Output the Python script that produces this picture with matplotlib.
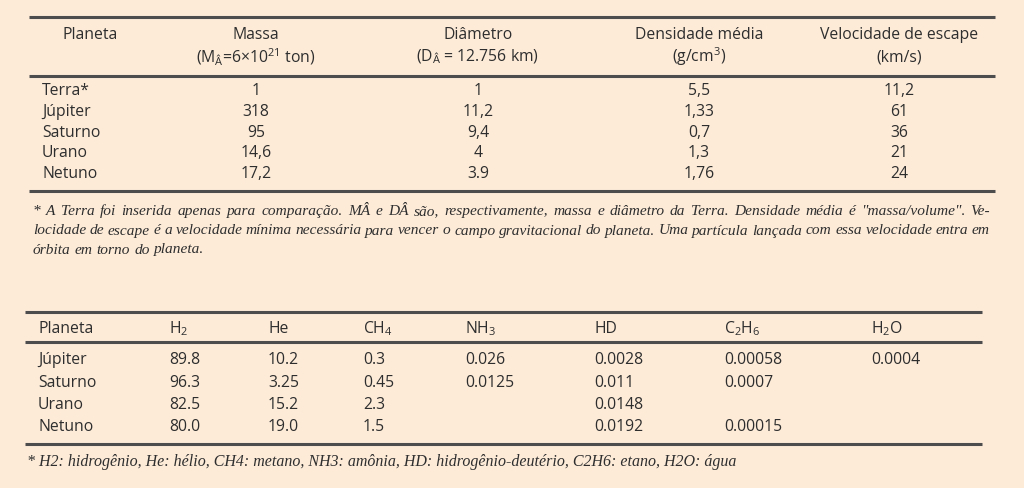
import matplotlib
matplotlib.use('Agg')
import matplotlib.pyplot as plt

# ---- data ----
planets1 = ['Terra*', 'Júpiter', 'Saturno', 'Urano', 'Netuno']
massa = ['1', '318', '95', '14,6', '17,2']
diametro = ['1', '11,2', '9,4', '4', '3.9']
densidade = ['5,5', '1,33', '0,7', '1,3', '1,76']
velocidade = ['11,2', '61', '36', '21', '24']
header1 = ['Massa', 'Diâmetro', 'Densidade média', 'Velocidade de escape']
header1_units = ['(M$_{\\mathrm{Â}}$=6×10$^{21}$ ton)', '(D$_{\\mathrm{Â}}$ = 12.756 km)',
                 '(g/cm$^{3}$)', '(km/s)']

planets2 = ['Júpiter', 'Saturno', 'Urano', 'Netuno']
gases = ['H$_2$', 'He', 'CH$_4$', 'NH$_3$', 'HD', 'C$_2$H$_6$', 'H$_2$O']
h2 = ['89.8', '96.3', '82.5', '80.0']
he = ['10.2', '3.25', '15.2', '19.0']
ch4 = ['0.3', '0.45', '2.3', '1.5']
nh3 = ['0.026', '0.0125', '', '']
hd = ['0.0028', '0.011', '0.0148', '0.0192']
c2h6 = ['0.00058', '0.0007', '', '0.00015']
h2o = ['0.0004', '', '', '']

note1 = ['* A Terra foi inserida apenas para comparação. MÂ e DÂ são, respectivamente, massa e diâmetro da Terra. Densidade média é "massa/volume". Ve-',
         'locidade de escape é a velocidade mínima necessária para vencer o campo gravitacional do planeta. Uma partícula lançada com essa velocidade entra em',
         'órbita em torno do planeta.']
note2 = '* H2: hidrogênio, He: hélio, CH4: metano, NH3: amônia, HD: hidrogênio-deutério, C2H6: etano, H2O: água'

# ---- style ----
bg = '#fdebd8'
txt = '#2e2e2e'
rule = '#4d4d4d'
sans = 'Open Sans'
serif = 'Liberation Serif'
fs = 11.3

plt.rcParams['mathtext.fontset'] = 'custom'
plt.rcParams['mathtext.rm'] = sans
plt.rcParams['mathtext.it'] = sans + ':italic'

fig = plt.figure(figsize=(10.24, 4.88), dpi=100, facecolor=bg)
ax = fig.add_axes([0, 0, 1, 1])
ax.set_xlim(0, 1024)
ax.set_ylim(488, 0)
ax.axis('off')
ax.set_facecolor(bg)

# ---- table 1 ----
ax.hlines([17, 76, 191], 29, 995, color=rule, lw=2.2)
centers = [256, 478, 699, 899]
ax.text(90, 35, 'Planeta', ha='center', va='center', fontsize=fs, color=txt, family=sans)
for cx, h, u in zip(centers, header1, header1_units):
    ax.text(cx, 35, h, ha='center', va='center', fontsize=fs, color=txt, family=sans)
    ax.text(cx, 57, u, ha='center', va='center', fontsize=fs, color=txt, family=sans)

row_y1 = [91, 112, 133, 153, 174]
cols1 = [massa, diametro, densidade, velocidade]
for i, y in enumerate(row_y1):
    ax.text(42, y, planets1[i], ha='left', va='center', fontsize=fs, color=txt, family=sans)
    for cx, col in zip(centers, cols1):
        ax.text(cx, y, col[i], ha='center', va='center', fontsize=fs, color=txt, family=sans)

# footnote 1, justified by hand
renderer = fig.canvas.get_renderer()
left, right = 33, 990
note_y = [215, 234.5, 253.5]
for k, line in enumerate(note1):
    words = line.split(' ')
    items = [ax.text(0, note_y[k], w, ha='left', va='baseline', fontsize=11.1,
                     style='italic', color=txt, family=serif) for w in words]
    widths = [t.get_window_extent(renderer).width for t in items]
    if k < len(note1) - 1:
        gap = (right - left - sum(widths)) / (len(words) - 1)
    else:
        gap = 4
    x = left
    for t, w in zip(items, widths):
        t.set_x(x)
        x += w + gap

# ---- table 2 ----
ax.hlines([312, 342, 444], 25, 982, color=rule, lw=2.2)
xcols2 = [169, 268, 363, 465, 594, 724, 871]
ax.text(38, 329, 'Planeta', ha='left', va='center', fontsize=fs, color=txt, family=sans)
for x, g in zip(xcols2, gases):
    ax.text(x, 329, g, ha='left', va='center', fontsize=fs, color=txt, family=sans)

row_y2 = [360, 383, 405, 427]
cols2 = [h2, he, ch4, nh3, hd, c2h6, h2o]
for i, y in enumerate(row_y2):
    ax.text(38, y, planets2[i], ha='left', va='center', fontsize=fs, color=txt, family=sans)
    for x, col in zip(xcols2, cols2):
        ax.text(x, y, col[i], ha='left', va='center', fontsize=fs, color=txt, family=sans)

ax.text(27, 466, note2, ha='left', va='baseline', fontsize=11.5, style='italic',
        color=txt, family=serif)

fig.savefig('out.png', dpi=100, facecolor=bg)
